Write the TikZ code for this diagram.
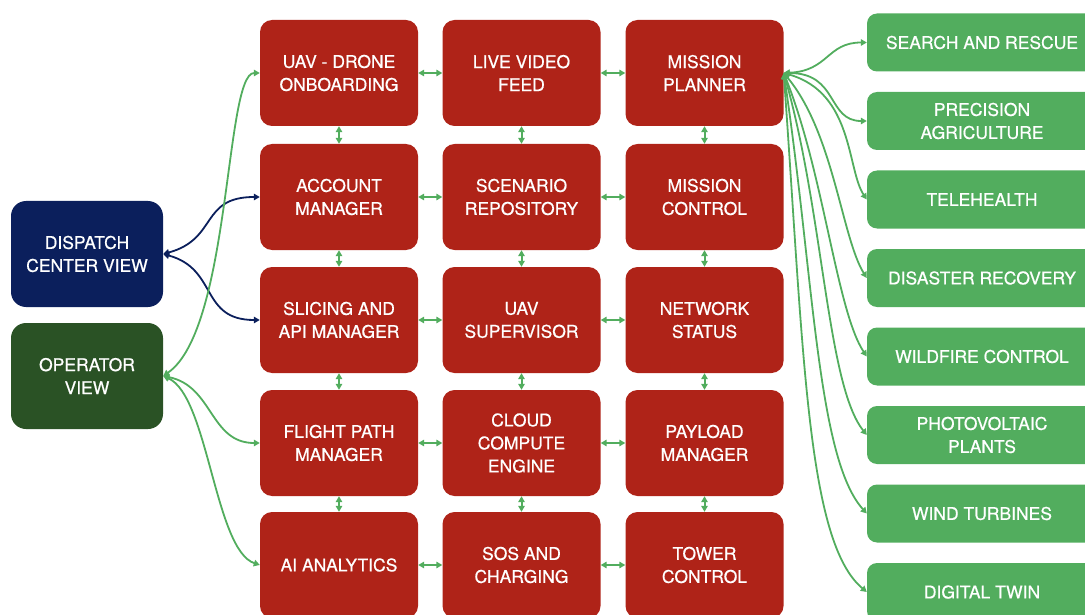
\documentclass[tikz,border=0pt]{standalone}
\usepackage{fontspec}
\setmainfont[FakeBold=0.6]{TeX Gyre Heros}
\usetikzlibrary{arrows.meta}

\definecolor{boxred}{HTML}{AF2318}
\definecolor{navy}{HTML}{0B1F5C}
\definecolor{darkgreen}{HTML}{2A5225}
\definecolor{leafgreen}{HTML}{52AD5E}

\tikzset{
  base/.style={rounded corners=12pt, inner sep=0pt, align=center, text=white,
    font=\fontsize{17.5}{23}\selectfont},
  module/.style={base, fill=boxred, minimum width=158pt, minimum height=106pt},
  viewbox/.style={base, minimum width=152pt, minimum height=106pt, rounded corners=15pt},
  usecase/.style={base, fill=leafgreen, minimum width=230pt, minimum height=58pt, rounded corners=10pt},
  tip/.tip={Triangle[length=6pt,width=6.5pt]},
  link/.style={draw=leafgreen, line width=2pt, {tip}-{tip}},
  flow/.style={draw=leafgreen, line width=1.8pt, {tip}-{tip}},
  navyflow/.style={draw=navy, line width=1.8pt, {tip}-{tip}},
}

\begin{document}
\begin{tikzpicture}[x=1pt, y=-1pt]
\useasboundingbox (0,0) rectangle (1085,615);
\clip (0,0) rectangle (1085,615);

% left-hand views
\node[viewbox, fill=navy] (disp) at (87,254) {DISPATCH\\CENTER VIEW};
\node[viewbox, fill=darkgreen] (oper) at (87,376) {OPERATOR\\VIEW};

% platform modules
\node[module] (uav)        at (339,73)    {UAV - DRONE\\ONBOARDING};
\node[module] (video)      at (521.5,73)  {LIVE VIDEO\\FEED};
\node[module] (planner)    at (704.5,73)  {MISSION\\PLANNER};
\node[module] (account)    at (339,197)   {ACCOUNT\\MANAGER};
\node[module] (scenario)   at (521.5,197) {SCENARIO\\REPOSITORY};
\node[module] (mcontrol)   at (704.5,197) {MISSION\\CONTROL};
\node[module] (slicing)    at (339,320)   {SLICING AND\\API MANAGER};
\node[module] (supervisor) at (521.5,320) {UAV\\SUPERVISOR};
\node[module] (netstat)    at (704.5,320) {NETWORK\\STATUS};
\node[module] (flight)     at (339,443)   {FLIGHT PATH\\MANAGER};
\node[module] (cloud)      at (521.5,443) {CLOUD\\COMPUTE\\ENGINE};
\node[module] (payload)    at (704.5,443) {PAYLOAD\\MANAGER};
\node[module] (ai)         at (339,565)   {AI ANALYTICS};
\node[module] (sos)        at (521.5,565) {SOS AND\\CHARGING};
\node[module] (tower)      at (704.5,565) {TOWER\\CONTROL};

% use cases
\node[usecase] (sar)   at (982,42.5)  {SEARCH AND RESCUE};
\node[usecase] (agri)  at (982,121)   {PRECISION\\AGRICULTURE};
\node[usecase] (tele)  at (982,199.5) {TELEHEALTH};
\node[usecase] (dis)   at (982,278)   {DISASTER RECOVERY};
\node[usecase] (fire)  at (982,356.5) {WILDFIRE CONTROL};
\node[usecase] (pv)    at (982,435)   {PHOTOVOLTAIC\\PLANTS};
\node[usecase] (wind)  at (982,513.5) {WIND TURBINES};
\node[usecase] (twin)  at (982,592)   {DIGITAL TWIN};

% grid links between modules
\foreach \a/\b in {uav/video, video/planner, account/scenario, scenario/mcontrol,
                   slicing/supervisor, supervisor/netstat, flight/cloud, cloud/payload,
                   ai/sos, sos/tower}
  \draw[link] (\a.east) -- (\b.west);
\foreach \a/\b in {uav/account, account/slicing, slicing/flight, flight/ai,
                   video/scenario, scenario/supervisor, supervisor/cloud, cloud/sos,
                   planner/mcontrol, mcontrol/netstat, netstat/payload, payload/tower}
  \draw[link] (\a.south) -- (\b.north);

% dispatch center links
\draw[navyflow] (disp.east) .. controls +(55,-15) and +(-60,0) .. (account.west);
\draw[navyflow] (disp.east) .. controls +(55,15) and +(-60,0) .. (slicing.west);

% operator links
\draw[flow] (oper.east) .. controls +(68,-47) and +(-35,0) .. (uav.west);
\draw[flow] (oper.east) .. controls +(50,10) and +(-50,0) .. (flight.west);
\draw[flow] (oper.east) .. controls +(45,20) and +(-45,-15) .. (ai.west);

% mission planner fan-out to use cases
\draw[flow] (planner.east) .. controls +(45,-2) and +(-40,0) .. (sar.west);
\draw[flow] (planner.east) .. controls +(55,0) and +(-40,0) .. (agri.west);
\draw[flow] (planner.east) .. controls +(70,20) and +(-20,-30) .. (tele.west);
\draw[flow] (planner.east) .. controls +(50,60) and +(-25,-40) .. (dis.west);
\draw[flow] (planner.east) .. controls +(40,100) and +(-30,-45) .. (fire.west);
\draw[flow] (planner.east) .. controls +(40,140) and +(-40,-50) .. (pv.west);
\draw[flow] (planner.east) .. controls +(30,200) and +(-50,-55) .. (wind.west);
\draw[flow] (planner.east) .. controls +(20,280) and +(-60,-50) .. (twin.west);
\end{tikzpicture}
\end{document}
